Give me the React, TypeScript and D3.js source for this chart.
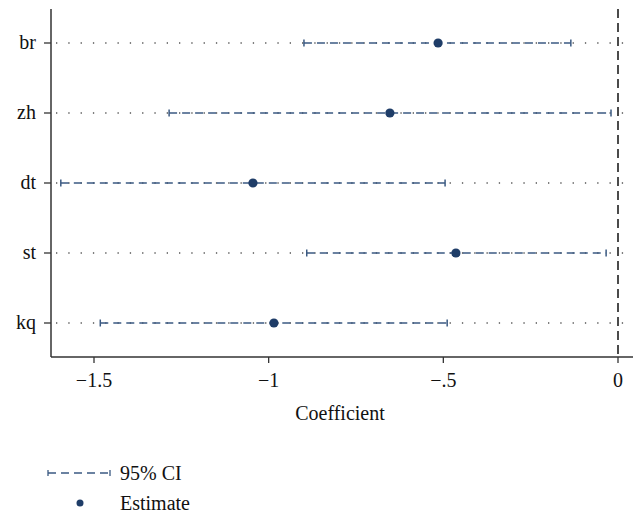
import * as d3 from "d3";

const categories = ["br", "zh", "dt", "st", "kq"];
const estimates = [-0.515, -0.653, -1.045, -0.464, -0.985];
const lower = [-0.899, -1.285, -1.595, -0.891, -1.482];
const upper = [-0.135, -0.02, -0.495, -0.034, -0.489];
const xTicks = [-1.5, -1, -0.5, 0];
const xTickLabels = ["\u22121.5", "\u22121", "\u2212.5", "0"];

const width = 633;
const height = 513;
const font = "'Liberation Serif', 'Times New Roman', Times, 'DejaVu Serif', serif";
const ciColor = "#3b5a82";
const dotColor = "#1f3d68";
const fs = 20;

export default function App() {
  // plot area
  const left = 51;
  const top = 9;
  const bottom = 357;
  const right = 633;

  const x = d3.scaleLinear().domain([-1.5, 0]).range([94, 618]);
  const y = d3.scalePoint().domain(categories).range([43, 323]);

  const txt = { fontFamily: font, fontSize: fs, fill: "#111" };

  return (
    <svg
      width={width}
      height={height}
      style={{ position: "absolute", left: 0, top: 0, background: "#fff" }}
    >
      {/* dotted guide lines */}
      {categories.map((c) => (
        <line
          key={"g" + c}
          x1={left + 5}
          x2={right}
          y1={y(c)}
          y2={y(c)}
          stroke="#555"
          strokeWidth={1.3}
          strokeDasharray="1.3 11"
        />
      ))}

      {/* zero reference line */}
      <line
        x1={x(0)}
        x2={x(0)}
        y1={top}
        y2={bottom}
        stroke="#111"
        strokeWidth={1.5}
        strokeDasharray="9 5"
      />

      {/* confidence intervals */}
      {categories.map((c, i) => {
        const yy = y(c)!;
        return (
          <g key={"ci" + c} stroke={ciColor} strokeWidth={1.5}>
            <line
              x1={x(lower[i])}
              x2={x(upper[i])}
              y1={yy}
              y2={yy}
              strokeDasharray="8 5"
            />
            <line x1={x(lower[i])} x2={x(lower[i])} y1={yy - 3.5} y2={yy + 3.5} />
            <line x1={x(upper[i])} x2={x(upper[i])} y1={yy - 3.5} y2={yy + 3.5} />
          </g>
        );
      })}

      {/* estimates */}
      {categories.map((c, i) => (
        <circle key={"e" + c} cx={x(estimates[i])} cy={y(c)} r={4.6} fill={dotColor} />
      ))}

      {/* axes */}
      <line x1={left} x2={left} y1={top} y2={bottom} stroke="#333" strokeWidth={1.5} />
      <line x1={left} x2={right} y1={bottom} y2={bottom} stroke="#333" strokeWidth={1.5} />

      {categories.map((c) => (
        <g key={"yt" + c}>
          <line x1={left - 7} x2={left} y1={y(c)} y2={y(c)} stroke="#333" strokeWidth={1.3} />
          <text x={left - 15} y={y(c)! + 6} textAnchor="end" style={txt}>
            {c}
          </text>
        </g>
      ))}

      {xTicks.map((t, i) => (
        <g key={"xt" + t}>
          <line x1={x(t)} x2={x(t)} y1={bottom} y2={bottom + 6} stroke="#333" strokeWidth={1.3} />
          <text x={x(t)} y={bottom + 30} textAnchor="middle" style={txt}>
            {xTickLabels[i]}
          </text>
        </g>
      ))}

      <text x={340} y={420} textAnchor="middle" style={txt}>
        Coefficient
      </text>

      {/* legend */}
      <g stroke={ciColor} strokeWidth={1.3}>
        <line x1={48} x2={110} y1={473} y2={473} strokeDasharray="8 5" />
        <line x1={48} x2={48} y1={470} y2={476} />
        <line x1={110} x2={110} y1={470} y2={476} />
      </g>
      <text x={120} y={480} style={txt}>
        95% CI
      </text>
      <circle cx={80} cy={503} r={3.5} fill={dotColor} />
      <text x={120} y={510} style={txt}>
        Estimate
      </text>
    </svg>
  );
}
